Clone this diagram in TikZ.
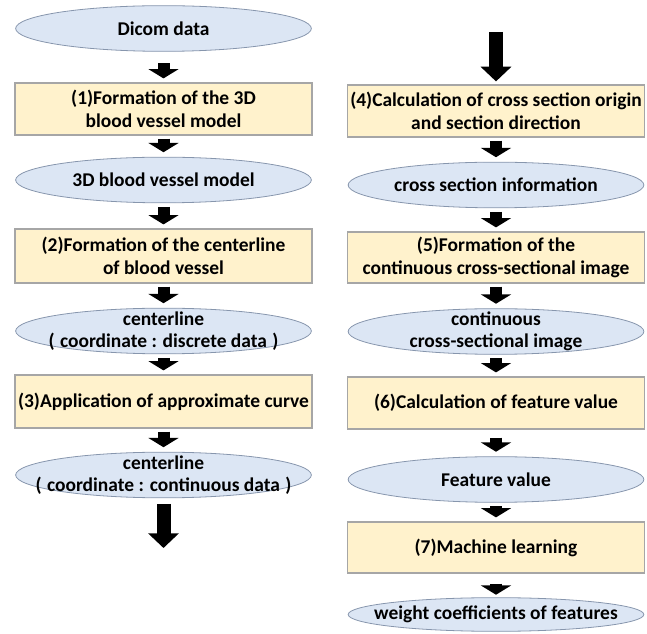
\documentclass[tikz,border=0pt]{standalone}
\usepackage{fontspec}
\setmainfont{Carlito}
\usetikzlibrary{arrows.meta,calc}
\definecolor{ink}{HTML}{000000}
\definecolor{datafill}{HTML}{DCE6F4}
\definecolor{dataline}{HTML}{8796AD}
\definecolor{stepfill}{HTML}{FFF2CC}
\definecolor{stepline}{HTML}{A6A6A6}
\newcommand{\figfontsize}{\fontsize{14.6}{16.8}\selectfont}
\newcommand{\paren}[1]{\kern3pt(\kern4pt#1\kern4pt)\kern3pt}
\tikzset{
  every picture/.style = {font=\figfontsize\bfseries},
  process/.style       = {rectangle, draw=stepline, line width=0.9pt, fill=stepfill,
                          minimum width=222.75pt, minimum height=39pt, inner sep=0pt, align=center},
  data/.style          = {rectangle, minimum width=222.75pt, minimum height=35.25pt, inner sep=0pt, align=center,
                          path picture={
                            \fill[datafill, draw=dataline, line width=0.6pt]
                              let \p1 = (path picture bounding box.north east),
                                  \p2 = (path picture bounding box.center) in
                              (\p2) ellipse [x radius={\x1-\x2-0.5pt}, y radius={\y1-\y2-0.5pt}];}},
  flow/.style          = {ink, line width=9pt, -{Triangle[width=22.5pt, length=7pt]},
                          shorten <=2.25pt, shorten >=3pt},
  bigflow/.style       = {ink, line width=10.5pt, -{Triangle[width=22.5pt, length=11pt]}},
}

\begin{document}
\begin{tikzpicture}[x=0.75pt, y=-0.75pt]
  \useasboundingbox (0,0) rectangle (647,634);
  \def\Lx{163.5}\def\Rx{496}   % column centres (px)

  % ---------- left column ----------------------------------------------------
  \node[data]    (dicom)   at (\Lx,28.5)  {Dicom data};
  \node[process] (model)   at (\Lx,109)   {(1)Formation of the 3D\\blood vessel model};
  \node[data]    (vessel)  at (\Lx,180)   {3D blood vessel model};
  \node[process, minimum height=40.5pt] (center) at (\Lx,256) {(2)Formation of the centerline\\of blood vessel};
  \node[data]    (discr)   at (\Lx,331)   {centerline\\\paren{coordinate : discrete data}};
  \node[process, minimum height=39.75pt] (approx) at (\Lx,401.5) {(3)Application of approximate curve};
  \node[data]    (contin)  at (\Lx,475)   {centerline\\\paren{coordinate : continuous data}};
  \coordinate    (leftout) at (\Lx,548);

  \draw[flow, shorten <=8.25pt] (dicom) -- (model);
  \draw[flow] (model)  -- (vessel);
  \draw[flow] (vessel) -- (center);
  \draw[flow] (center) -- (discr);
  \draw[flow] (discr)  -- (approx);
  \draw[flow] (approx) -- (contin);
  \draw[bigflow, shorten <=3.75pt] (contin) -- (leftout);

  % ---------- right column ---------------------------------------------------
  \coordinate    (rightin) at (\Rx,32);
  \node[process] (origin)  at (\Rx,111)   {(4)Calculation of cross section origin\\and section direction};
  \node[data]    (section) at (\Rx,185)   {cross section information};
  \node[process, minimum height=38.25pt] (image) at (\Rx,257.5) {(5)Formation of the\\continuous cross-sectional image};
  \node[data]    (sliced)  at (\Rx,331.5) {continuous\\cross-sectional image};
  \node[process] (feature) at (\Rx,403)   {(6)Calculation of feature value};
  \node[data]    (value)   at (\Rx,479.5) {Feature value};
  \node[process, minimum height=38.25pt] (learn) at (\Rx,547.5) {(7)Machine learning};
  \node[data, minimum height=26.25pt] (weight) at (\Rx,614.5) {weight coefficients of features};

  \draw[bigflow, shorten >=2.25pt] (rightin) -- (origin);
  \draw[flow] (origin)  -- (section);
  \draw[flow] (section) -- (image);
  \draw[flow] (image)   -- (sliced);
  \draw[flow] (sliced)  -- (feature);
  \draw[flow, shorten <=6pt] (feature) -- (value);
  \draw[flow] (value)   -- (learn);
  \draw[flow, shorten <=7.5pt, shorten >=1.5pt] (learn) -- (weight);
\end{tikzpicture}
\end{document}
